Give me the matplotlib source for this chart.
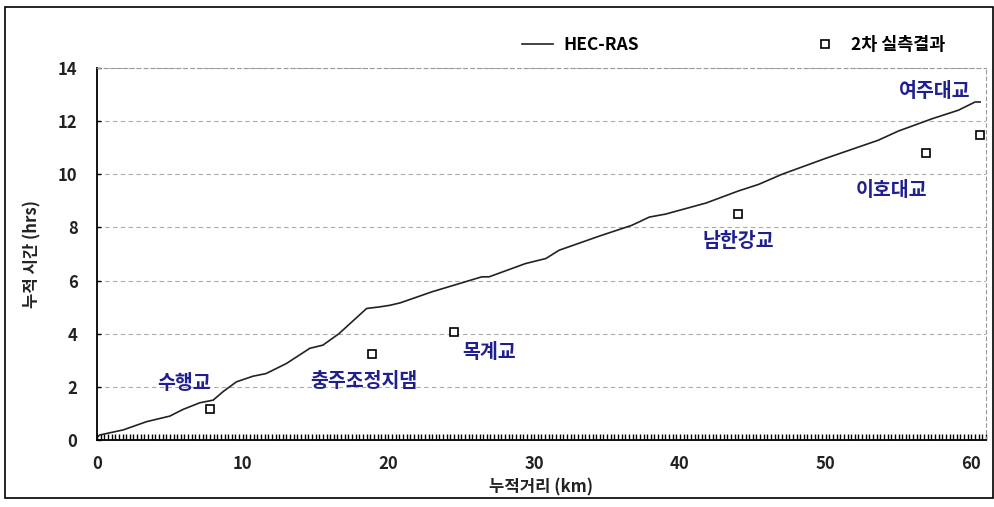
import matplotlib
matplotlib.use("Agg")
import matplotlib.pyplot as plt
from matplotlib.patches import Rectangle
from matplotlib.ticker import MultipleLocator

plt.rcParams['font.family'] = ['Noto Sans CJK KR', 'DejaVu Sans']

# HEC-RAS simulated cumulative travel time
ras_km = [0.0, 0.2, 1.8, 3.4, 5.0, 5.9, 7.05, 7.97, 8.65, 9.57, 10.7, 11.6, 13.0,
          14.6, 15.5, 16.6, 17.6, 18.5, 19.4, 20.1, 20.8, 23.0, 26.4, 26.9, 29.4,
          30.8, 31.7, 34.5, 36.7, 37.9, 39.0, 41.8, 44.0, 45.4, 47.0, 50.0, 53.6,
          55.0, 57.3, 59.1, 60.25, 60.6]
ras_hr = [0.1, 0.19, 0.38, 0.69, 0.9, 1.15, 1.4, 1.5, 1.82, 2.19, 2.4, 2.5, 2.88,
          3.45, 3.57, 4.0, 4.5, 4.95, 5.01, 5.07, 5.16, 5.58, 6.14, 6.14, 6.64,
          6.83, 7.14, 7.68, 8.08, 8.39, 8.5, 8.92, 9.37, 9.62, 10.0, 10.6, 11.28,
          11.63, 12.09, 12.41, 12.72, 12.72]

# 2nd measurement results
obs_km = [7.74, 18.9, 24.5, 44.0, 56.9, 60.6]
obs_hr = [1.15, 3.23, 4.07, 8.52, 10.8, 11.47]

# station labels
lab_names = ['수행교', '충주조정지댐', '목계교', '남한강교', '이호대교', '여주대교']
lab_km = [6.0, 18.3, 26.9, 44.0, 54.5, 57.5]
lab_hr = [2.14, 2.2, 3.3, 7.48, 9.4, 13.1]

fig = plt.figure(figsize=(9.95, 5.07), dpi=100)
ax = fig.add_axes([97/995, 1-440/507, (986-97)/995, (440-68)/507])

ax.plot(ras_km, ras_hr, color='#222222', lw=1.2, label='HEC-RAS')
ax.plot(obs_km, obs_hr, ls='none', marker='s', ms=5.5, mfc='white', mec='black',
        mew=1.2, label='2차 실측결과')

for n, x, y in zip(lab_names, lab_km, lab_hr):
    ax.text(x, y, n, ha='center', va='center', color='#1f1f8f', fontsize=14,
            fontweight='bold')

ax.set_xlim(0, 61)
ax.set_ylim(0, 14)
ax.xaxis.set_major_locator(MultipleLocator(10))
ax.xaxis.set_minor_locator(MultipleLocator(0.25))
ax.yaxis.set_major_locator(MultipleLocator(2))
ax.grid(axis='y', color='#aaaaaa', ls=(0, (4, 3)), lw=0.8)
ax.tick_params(axis='x', which='both', direction='in', length=4, width=1,
               top=False, pad=11)
ax.tick_params(axis='y', which='major', direction='in', length=3, width=1, pad=14)
for lab in ax.get_xticklabels() + ax.get_yticklabels():
    lab.set_fontweight('bold')
    lab.set_fontsize(12)
    lab.set_color('#222222')
for s in ['top', 'right']:
    ax.spines[s].set_linestyle((0, (3, 3)))
    ax.spines[s].set_color('#999999')
    ax.spines[s].set_linewidth(0.8)
for s in ['left', 'bottom']:
    ax.spines[s].set_color('black')
    ax.spines[s].set_linewidth(1.3)

ax.set_xlabel('누적거리 (km)', fontsize=12, fontweight='bold', color='#222222',
              labelpad=4)
ax.set_ylabel('누적 시간 (hrs)', fontsize=12, fontweight='bold', color='#222222',
              labelpad=12)

ax.legend(ncol=2, loc='lower right', bbox_to_anchor=(0.972, 0.995), frameon=False,
          columnspacing=9.8, handlelength=1.8, handletextpad=0.6,
          prop={'weight': 'bold', 'size': 12.5})

fig.patches.append(Rectangle((5/995, 1-498/507), 988/995, 491/507,
                             transform=fig.transFigure, fill=False,
                             edgecolor='black', lw=1.2))

fig.savefig('out.png', dpi=100)
